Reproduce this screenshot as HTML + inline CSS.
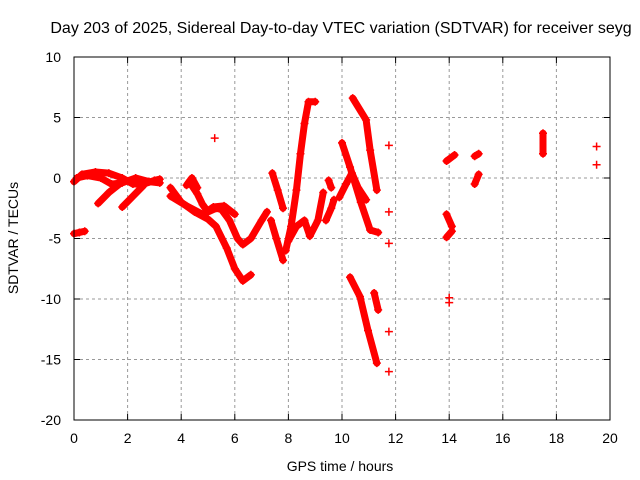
<!DOCTYPE html>
<html><head><meta charset="utf-8"><style>
body{margin:0;background:#fff;}
svg{display:block;font-family:"Liberation Sans",sans-serif;}
</style></head><body>
<svg id="chart" width="640" height="480" xmlns="http://www.w3.org/2000/svg">
<text x="341" y="33" text-anchor="middle" font-size="16">Day 203 of 2025, Sidereal Day-to-day VTEC variation (SDTVAR) for receiver seyg</text>
<text x="340" y="471" text-anchor="middle" font-size="14">GPS time / hours</text>
<text transform="translate(18,238) rotate(-90)" text-anchor="middle" font-size="14">SDTVAR / TECUs</text>
<g id="grid"></g>
<g id="ticks"></g>
<g id="marks"></g>
<rect x="74" y="57" width="536" height="363" fill="none" stroke="#000" stroke-width="1"/>
</svg>
<script>
const xTicks=[0,2,4,6,8,10,12,14,16,18,20];
const yTicks=[10,5,0,-5,-10,-15,-20];
const tracks=[
 {t:[0,0.3,0.8,1.3,1.8,2.2,2.6,3.0,3.2],v:[-0.3,0.3,0.5,0.4,0,-0.5,-0.5,-0.2,-0.1]},
 {t:[0.1,0.5,1.0,1.4,1.8,2.3,2.8,3.2],v:[0,0.2,0,-0.5,-0.4,0,-0.3,-0.4]},
 {t:[1.7,1.3,0.9],v:[-0.5,-1.2,-2.1]},
 {t:[2.6,2.2,1.8],v:[-0.6,-1.5,-2.4]},
 {t:[0,0.2,0.4],v:[-4.6,-4.5,-4.4]},
 {t:[3.6,4.0,4.5,5.0,5.3,5.7,6.0,6.3,6.6],v:[-0.8,-2.0,-2.8,-3.4,-4.0,-5.8,-7.5,-8.5,-8.0]},
 {t:[4.3,4.6,4.8,5.0,5.3,5.5,5.8,6.1,6.3,6.6,7.0,7.2],v:[-0.3,-1.3,-2.2,-2.8,-2.5,-2.6,-3.5,-5.0,-5.5,-5.0,-3.5,-2.8]},
 {t:[3.6,4.2,4.8,5.2,5.6,6.0],v:[-1.5,-2.3,-3.0,-2.4,-2.3,-3.0]},
 {t:[4.2,4.4,4.6],v:[-0.6,0,-0.8]},
 {t:[7.4,7.6,7.8],v:[0.4,-1.0,-2.5]},
 {t:[7.35,7.55,7.8],v:[-3.5,-5.0,-6.8]},
 {t:[7.9,8.1,8.3,8.45,8.6,8.75,9.0],v:[-6.0,-4.0,-1.0,2.0,4.5,6.3,6.3]},
 {t:[8.0,8.3,8.6,8.8,9.1,9.3],v:[-5.2,-4.0,-3.5,-4.8,-3.5,-1.2]},
 {t:[9.4,9.6,9.7],v:[-3.5,-2.5,-1.8]},
 {t:[9.5,9.6],v:[-0.2,-0.8]},
 {t:[10.0,10.3,10.7,11.05,11.35],v:[2.9,0.9,-2.0,-4.3,-4.5]},
 {t:[9.9,10.15,10.37,10.6,10.9],v:[-1.6,-0.5,0.4,-0.8,-1.8]},
 {t:[10.4,10.9,11.05,11.3],v:[6.6,4.8,2.3,-1.0]},
 {t:[10.3,10.67,10.97,11.3],v:[-8.2,-9.8,-12.6,-15.3]},
 {t:[11.2,11.35],v:[-9.5,-10.9]},
 {t:[13.9,14.2],v:[1.4,1.9]},
 {t:[13.9,14.1],v:[-3.0,-4.0]},
 {t:[13.9,14.1],v:[-4.9,-4.4]},
 {t:[14.95,15.1],v:[1.8,2.0]},
 {t:[14.95,15.1],v:[-0.5,0.3]},
 {t:[17.5,17.5],v:[3.7,2.0]}
];
const singleT=[5.25,11.75,11.75,11.75,11.75,11.75,14.0,14.0,19.5,19.5];
const singleV=[3.3,2.7,-2.8,-5.4,-12.7,-16.0,-10.3,-9.9,2.6,1.1];
const X0=74,X1=610,Y0=420,Y1=57;
function px(t){return X0+(t-0)/(20-0)*(X1-X0);}
function py(v){return Y0-(v-(-20))/(10-(-20))*(Y0-Y1);}
const NS="http://www.w3.org/2000/svg";
function mk(tag,attrs,parent){const e=document.createElementNS(NS,tag);for(const k in attrs)e.setAttribute(k,attrs[k]);parent.appendChild(e);return e;}
const grid=document.getElementById('grid'),ticks=document.getElementById('ticks'),marks=document.getElementById('marks');
xTicks.forEach(t=>{const x=px(t);
 if(t>0&&t<20){const l=mk('line',{x1:x,x2:x,y1:Y1,y2:Y0,stroke:'#999','stroke-dasharray':'3,3'},grid);
 
 }
 mk('line',{x1:x,x2:x,y1:Y0,y2:Y0-6,stroke:'#000'},ticks);
 mk('line',{x1:x,x2:x,y1:Y1,y2:Y1+6,stroke:'#000'},ticks);
 const tx=mk('text',{x:x,y:Y0+23,'text-anchor':'middle','font-size':'14'},ticks);tx.textContent=t;
 
 
});
yTicks.forEach(v=>{const y=py(v);
 if(v>-20&&v<10){const l=mk('line',{x1:X0,x2:X1,y1:y,y2:y,stroke:'#999','stroke-dasharray':'3,3'},grid);
 
 }
 mk('line',{x1:X0,x2:X0+6,y1:y,y2:y,stroke:'#000'},ticks);
 mk('line',{x1:X1,x2:X1-6,y1:y,y2:y,stroke:'#000'},ticks);
 const tx=mk('text',{x:X0-13,y:y+5,'text-anchor':'end','font-size':'14'},ticks);tx.textContent=v;
 
 
});
function plus(t,v){const x=px(t),y=py(v);
 const p=mk('path',{d:`M${x-4},${y}H${x+4}M${x},${y-4}V${y+4}`,stroke:'#f00','stroke-width':1.5,fill:'none'},marks);
 
 }
tracks.forEach(tr=>{
 let d='';tr.t.forEach((t,i)=>{d+=(i?'L':'M')+px(t)+','+py(tr.v[i]);});
 const p=mk('path',{d:d,stroke:'#f00','stroke-width':7,fill:'none','stroke-linejoin':'round','stroke-linecap':'round'},marks);
 
 
 tr.t.forEach((t,i)=>plus(t,tr.v[i]));
});
singleT.forEach((t,i)=>plus(t,singleV[i]));
</script>
</body></html>
